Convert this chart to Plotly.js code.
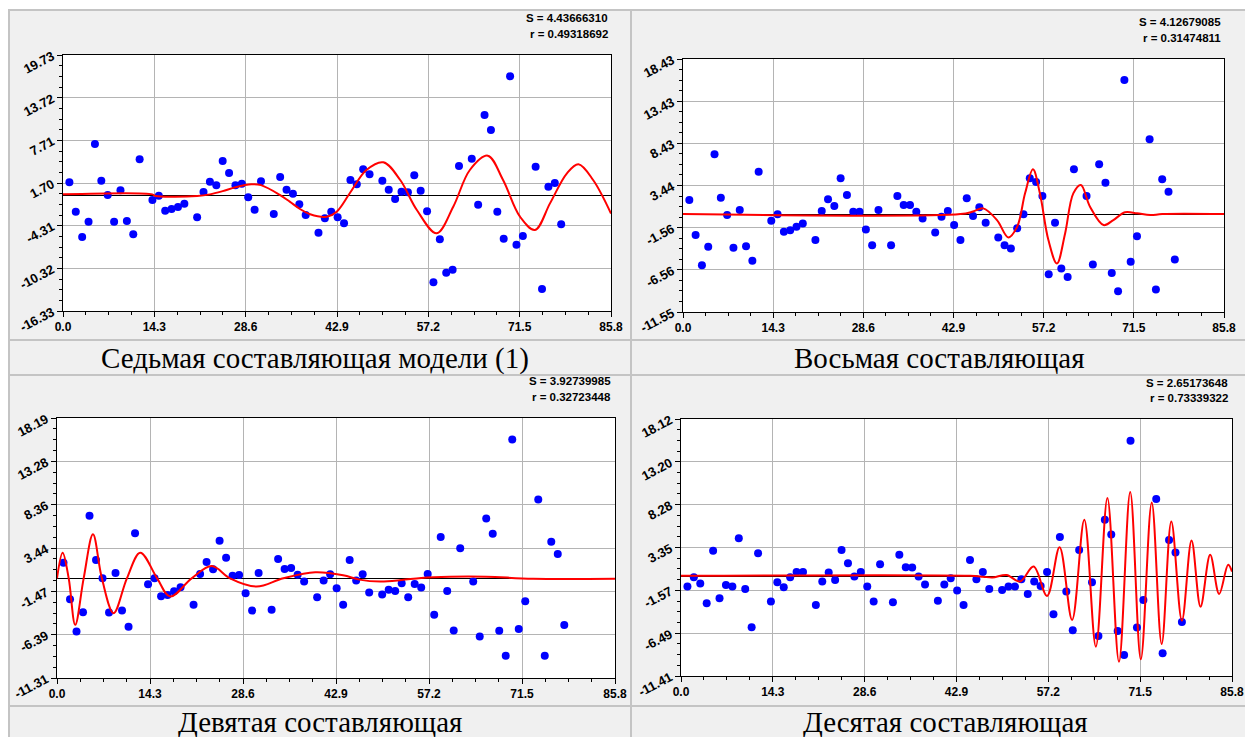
<!DOCTYPE html>
<html>
<head>
<meta charset="utf-8">
<script src="https://cdn.plot.ly/plotly-3.0.1.min.js"></script>
<style>
html,body{margin:0;padding:0;background:#ffffff;}
#chart{width:1245px;height:737px;}
</style>
</head>
<body>
<div id="chart"></div>
<script>
// ---------- DATA ----------
const xObs = [1,2,3,4,5,6,7,8,9,10,11,12,14,15,16,17,18,19,21,22,23,24,25,26,27,28,29,30,31,33,34,35,36,37,38,40,41,42,43,44,45,46,47,48,50,51,52,53,54,55,56,57,58,59,60,61,62,64,65,66,67,68,69,70,71,72,74,75,76,77,78];

const xTickVals = [0, 14.3, 28.6, 42.9, 57.2, 71.5, 85.8];
const xTickText = ["0.0","14.3","28.6","42.9","57.2","71.5","85.8"];

const captions = ["Седьмая составляющая модели (1)", "Восьмая составляющая", "Девятая составляющая", "Десятая составляющая"];
const sValues = ["4.43666310", "4.12679085", "3.92739985", "2.65173648"];
const rValues = ["0.49318692", "0.31474811", "0.32723448", "0.73339322"];

// Panel 1: seventh component
const y7 = [1.80,-2.34,-5.91,-3.75,7.19,2.03,0.01,-3.75,0.67,-3.65,-5.53,5.04,-0.69,-0.09,-2.20,-1.96,-1.68,-1.21,-3.13,0.43,1.88,1.37,4.80,3.11,1.37,1.60,-0.31,-2.06,1.94,-2.67,2.55,0.76,0.19,-1.30,-2.81,-5.30,-3.27,-2.34,-3.13,-3.98,2.12,1.52,3.63,2.93,2.03,0.76,-0.55,0.47,0.39,2.78,0.62,-2.29,-12.29,-6.23,-10.93,-10.51,4.09,5.12,-1.36,11.28,9.17,-2.34,-6.15,16.73,-6.99,-5.77,4.00,-13.23,1.18,1.70,-4.12];
const curve7X = [0,14,14.5,21,23,25,27,29.5,31,34,35.5,37.1,38.7,41.3,42.85,44.9,47.5,50.15,52.8,55.4,58.5,61.1,63.7,66.5,68.9,71.55,73.9,76.25,78.9,80.7,83.0,85.8];
const curve7Y = [0.10,0.10,-0.13,-0.13,0.10,0.55,1.10,1.52,1.40,0.00,-0.93,-1.96,-2.71,-3.05,-2.34,0.25,3.53,4.62,2.12,-2.10,-5.39,-1.64,3.53,5.55,2.12,-3.05,-4.92,-1.17,3.06,4.33,2.12,-2.60];
const yTicks7 = ["-16.33","-10.32","-4.31","1.70","7.71","13.72","19.73"];

// Panel 2: eighth component
const y8 = [1.72,-2.44,-6.00,-3.83,7.15,1.99,-0.06,-3.95,0.53,-3.75,-5.49,5.08,-0.74,0.02,-2.05,-1.85,-1.45,-1.05,-3.03,0.41,1.80,1.01,4.30,2.31,0.33,0.33,-1.76,-3.63,0.53,-3.63,2.19,1.12,1.12,0.33,-0.46,-2.12,-0.27,0.41,-1.25,-3.03,1.92,-0.18,0.85,-0.98,-2.71,-3.63,-4.02,-1.64,0.02,4.30,3.86,2.19,-7.07,-0.98,-6.39,-7.39,5.36,2.19,-5.92,5.96,3.77,-6.92,-9.09,15.94,-5.61,-2.56,8.93,-8.89,4.18,2.70,-5.33];
const curve8X = [0,44,46,47.6,49.8,51.6,53.0,54.25,55.5,56.6,57.95,59.3,60.6,61.9,63.1,64.55,66.7,68.25,70.1,72.0,74.1,76,85.8];
const curve8Y = [0.05,0.05,0.35,0.73,-0.66,-2.71,-1.45,2.51,5.36,2.51,-3.03,-5.80,-2.24,2.51,3.50,0.92,-1.25,-0.66,0.26,0.14,-0.06,0.05,0.05];
const yTicks8 = ["-11.55","-6.56","-1.56","3.44","8.43","13.43","18.43"];

// Panel 3: ninth component
const y9 = [1.78,-2.37,-6.03,-3.84,7.10,2.08,0.01,-3.88,0.61,-3.66,-5.50,5.10,-0.67,0.01,-2.03,-1.88,-1.46,-1.01,-3.01,0.50,1.86,1.03,4.27,2.34,0.30,0.37,-1.69,-3.66,0.61,-3.58,2.19,1.06,1.18,0.40,-0.35,-2.14,-0.26,0.46,-1.12,-3.01,2.08,-0.26,0.46,-1.62,-1.85,-1.31,-1.43,-0.56,-2.14,-0.64,-1.05,0.50,-4.14,4.69,-1.43,-5.92,3.41,-0.37,-6.60,6.80,5.06,-5.96,-8.79,15.74,-5.76,-2.59,8.95,-8.79,4.15,2.76,-5.31];
const curve9X = [0,0.87,1.8,2.8,4.1,5.53,6.9,8.7,10.75,12.8,15.4,17.4,20.7,23.8,26.6,30.7,34.8,39.7,44,46.5,49.7,53,56,60.4,66,73.2,85.8];
const curve9Y = [0,2.91,0,-5.28,0,4.99,0,-3.95,0,2.91,0,-2.07,0,1.40,0,-0.94,0,0.69,0.35,-0.15,-0.37,-0.20,0.05,0.19,0.19,-0.05,-0.05];
const yTicks9 = ["-11.31","-6.39","-1.47","3.44","8.36","13.28","18.19"];

// Panel 4: tenth component
const y10 = [-1.14,-0.06,-0.79,-3.05,2.97,-2.47,-0.94,-1.14,4.43,-1.40,-5.81,2.70,-2.86,-0.63,-1.21,-0.06,0.55,0.55,-3.24,-0.56,0.47,-0.37,3.08,1.55,0.01,0.55,-1.14,-2.86,1.44,-2.93,2.51,1.09,1.05,0.01,-0.91,-2.75,-0.91,-0.17,-1.60,-3.24,1.93,-0.29,0.55,-1.40,-1.52,-1.14,-1.14,-0.29,-1.98,-0.56,-1.06,0.55,-4.31,4.55,-1.71,-6.15,3.08,-0.63,-6.81,6.54,4.84,-6.23,-9.00,15.62,-5.85,-2.67,8.92,-8.80,4.23,2.77,-5.20];
const curve10X = [0,45,47,48.5,50.7,52.8,54.9,57.0,58.95,60.9,62.8,64.6,66.4,68.2,69.95,71.6,73.3,74.85,76.35,78.0,79.5,80.9,82.4,83.8,85.2,85.8];
const curve10Y = [0.10,0.10,0.00,-0.10,0.20,-0.56,1.16,-2.21,3.39,-4.97,6.54,-8.04,9.03,-9.77,9.72,-9.49,8.53,-7.73,6.34,-5.05,4.15,-3.44,2.51,-1.98,1.36,0.59];
const yTicks10 = ["-11.41","-6.49","-1.57","3.35","8.28","13.20","18.12"];

// ---------- LAYOUT ----------
const W = 1245, H = 737;
const panels = [
  {y: y7,  cx: curve7X,  cy: curve7Y,  ticks: yTicks7,  box: [63, 611, 55, 311],   sr: [610, 18, 34],   cap: [315, 358]},
  {y: y8,  cx: curve8X,  cy: curve8Y,  ticks: yTicks8,  box: [683, 1224, 59, 312], sr: [1223, 22, 38],  cap: [939, 358]},
  {y: y9,  cx: curve9X,  cy: curve9Y,  ticks: yTicks9,  box: [57, 615, 418, 678],  sr: [613, 381, 397], cap: [320, 722]},
  {y: y10, cx: curve10X, cy: curve10Y, ticks: yTicks10, box: [681, 1232, 419, 676], sr: [1230, 383, 398], cap: [945, 722]}
];

const traces = [];
const layout = {
  width: W, height: H,
  margin: {l: 0, r: 0, t: 0, b: 0},
  paper_bgcolor: '#f0f0f0',
  plot_bgcolor: '#ffffff',
  showlegend: false,
  shapes: [],
  annotations: []
};

const xTickFont = {family: 'Liberation Sans, Arial, sans-serif', size: 12, color: '#000000', weight: 700};
const yTickFont = {family: 'Liberation Sans, Arial, sans-serif', size: 13, color: '#000000', weight: 700};

// frame of the table
const border = '#c4c4c4';
layout.shapes.push({type:'rect', xref:'paper', yref:'paper', x0:0, x1:1, y0:1-10/H, y1:1, fillcolor:'#ffffff', line:{width:0}, layer:'below'});
layout.shapes.push({type:'rect', xref:'paper', yref:'paper', x0:0, x1:8/W, y0:0, y1:1, fillcolor:'#ffffff', line:{width:0}, layer:'below'});
[10, 340, 375, 706].forEach(py => layout.shapes.push({type:'line', xref:'paper', yref:'paper', x0:8/W, x1:1, y0:1-py/H, y1:1-py/H, line:{color:border, width:2}, layer:'below'}));
[9, 631].forEach(px => layout.shapes.push({type:'line', xref:'paper', yref:'paper', x0:px/W, x1:px/W, y0:0, y1:1-10/H, line:{color:border, width:2}, layer:'below'}));

panels.forEach((p, i) => {
  const n = i === 0 ? '' : String(i + 1);
  const [x0, x1, yt, yb] = p.box;
  const tv = p.ticks.map(Number);
  const ymin = tv[0], ymax = tv[tv.length - 1];

  traces.push({
    x: xObs, y: p.y, type: 'scatter', mode: 'markers',
    xaxis: 'x' + n, yaxis: 'y' + n,
    marker: {color: '#0000ff', size: 8, line: {width: 0}},
    hoverinfo: 'skip', cliponaxis: false
  });
  traces.push({
    x: p.cx, y: p.cy, type: 'scatter', mode: 'lines',
    xaxis: 'x' + n, yaxis: 'y' + n,
    line: {color: '#ff0000', width: 2, shape: 'spline', smoothing: 1},
    hoverinfo: 'skip'
  });

  layout['xaxis' + n] = {
    domain: [x0 / W, x1 / W], anchor: 'y' + n,
    range: [0, 85.8], tickmode: 'array', tickvals: xTickVals, ticktext: xTickText,
    ticks: 'outside', ticklen: 5, tickwidth: 1, tickcolor: '#000000',
    minor: {tickmode: 'linear', tick0: 0, dtick: 85.8 / 24, ticks: 'outside', ticklen: 3, tickwidth: 1, tickcolor: '#000000', showgrid: false},
    showgrid: true, gridcolor: '#b4b4b4', gridwidth: 1,
    zeroline: false, showline: true, linecolor: '#000000', linewidth: 1, mirror: true,
    tickfont: xTickFont, fixedrange: true
  };
  layout['yaxis' + n] = {
    domain: [1 - yb / H, 1 - yt / H], anchor: 'x' + n,
    range: [ymin, ymax], tickmode: 'array', tickvals: tv, ticktext: p.ticks,
    ticks: 'outside', ticklen: 5, tickwidth: 1, tickcolor: '#000000', tickangle: -28,
    ticklabelstandoff: 2,
    minor: {tickmode: 'linear', tick0: ymin, dtick: (ymax - ymin) / 24, ticks: 'outside', ticklen: 3, tickwidth: 1, tickcolor: '#000000', showgrid: false},
    showgrid: true, gridcolor: '#b4b4b4', gridwidth: 1,
    zeroline: true, zerolinecolor: '#000000', zerolinewidth: 1,
    showline: true, linecolor: '#000000', linewidth: 1, mirror: true,
    tickfont: yTickFont, fixedrange: true
  };

  const srFont = {family: 'Liberation Sans, Arial, sans-serif', size: 11.5, color: '#000000', weight: 700};
  layout.annotations.push({xref:'paper', yref:'paper', x: p.sr[0] / W, y: 1 - p.sr[1] / H, xanchor:'right', yanchor:'middle', text: 'S = ' + sValues[i], showarrow:false, font: srFont});
  layout.annotations.push({xref:'paper', yref:'paper', x: p.sr[0] / W, y: 1 - p.sr[2] / H, xanchor:'right', yanchor:'middle', text: 'r = ' + rValues[i], showarrow:false, font: srFont});
  layout.annotations.push({xref:'paper', yref:'paper', x: p.cap[0] / W, y: 1 - p.cap[1] / H, xanchor:'center', yanchor:'middle', text: captions[i], showarrow:false,
    font: {family: 'Liberation Serif, Times New Roman, serif', size: 29, color: '#000000'}});
});

Plotly.newPlot('chart', traces, layout, {staticPlot: true, displayModeBar: false});
</script>
</body>
</html>
